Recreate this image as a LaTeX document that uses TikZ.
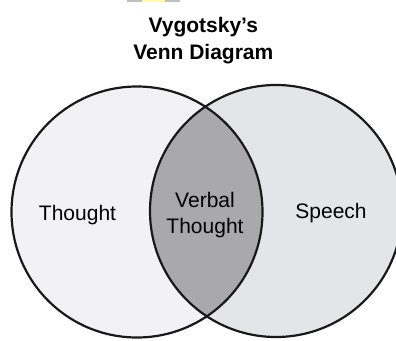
\documentclass[tikz,border=0pt]{standalone}
\usepackage{fontspec}
\setmainfont{Liberation Sans}
\usetikzlibrary{positioning}
\definecolor{thoughtfill}{HTML}{F2F2F4}
\definecolor{speechfill}{HTML}{E4E5E9}
\definecolor{verbalfill}{HTML}{A9A9AC}
\tikzset{
    vcircle/.style={draw=black!90, line width=2.2pt},
    ttlnode/.style={align=center, inner sep=0pt, font=\fontsize{21}{26.6}\selectfont\bfseries},
    lblnode/.style={align=center, inner sep=0pt, font=\fontsize{21}{26}\selectfont},
}

\begin{document}
\begin{tikzpicture}[x=1pt, y=-1pt]
    \useasboundingbox (0,0) rectangle (396,340);
    % stray strip at the top edge
    \fill[black!25] (127,0) rectangle (142,1.5);
    \fill[yellow!35] (142,0) rectangle (165,1.5);
    \fill[black!25] (165,0) rectangle (180,1.5);

    \coordinate (lc) at (137,212);
    \coordinate (rc) at (276,211);
    \fill[thoughtfill] (lc) circle[radius=125.5pt];
    \fill[speechfill] (rc) circle[radius=126pt];
    \begin{scope}
        \clip (lc) circle[radius=125.5pt];
        \fill[verbalfill] (rc) circle[radius=126pt];
    \end{scope}
    \draw[vcircle] (lc) circle[radius=125.5pt];
    \draw[vcircle] (rc) circle[radius=126pt];

    \node[ttlnode] (title) at (203.3,40.5) {Vygotsky's\\Venn Diagram};
    \node[lblnode, anchor=base] (thought) at (77.5,220.7) {Thought};
    \node[lblnode] (verbal) at (205,214.8) {Verbal\\Thought};
    \node[lblnode, anchor=base] (speech) at (331,218.3) {Speech};
\end{tikzpicture}
\end{document}
